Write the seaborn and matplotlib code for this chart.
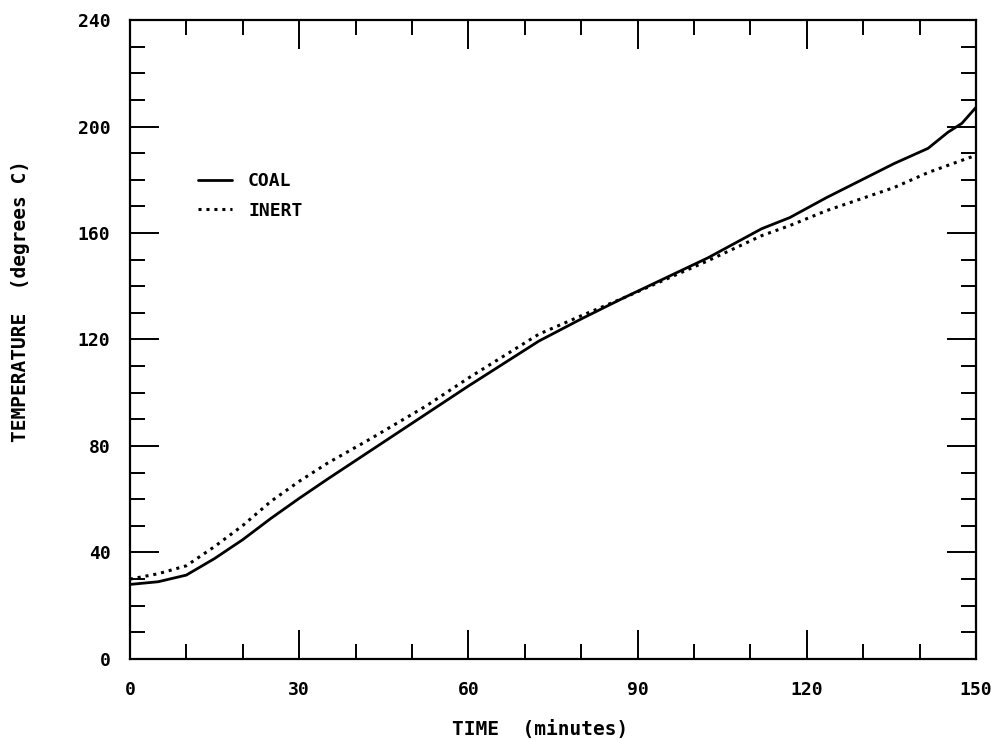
import numpy as np
import pandas as pd
import matplotlib
matplotlib.use("Agg")
import matplotlib.pyplot as plt
from matplotlib.ticker import MultipleLocator
from matplotlib.lines import Line2D
import seaborn as sns

# Heating curves: bed temperature versus time for coal and inert packing
time_min = [0, 5, 10, 15, 20, 25, 30, 35, 42.5, 52.5, 60, 72.5, 80, 87.5,
            102.5, 112, 117, 123.5, 135.5, 141.5, 145, 147.5, 150]
coal_temp = [28, 29, 31.5, 37.7, 44.8, 52.8, 60.3, 67.5, 78, 92, 102.5, 119.4,
             127.7, 135.6, 150.7, 161.6, 165.8, 173.3, 186.1, 191.8, 197.8,
             201.2, 207.2]
inert_temp = [30, 32, 35, 42.2, 50.1, 59.2, 66.7, 73.5, 82.5, 95, 105.5, 122,
              128.9, 135.6, 149.6, 159, 162.8, 168.4, 177.1, 182.7, 185.4,
              187.3, 189.2]

series_names = ["COAL", "INERT"]
x_ticks = [0, 30, 60, 90, 120, 150]
y_ticks = [0, 40, 80, 120, 160, 200, 240]
x_label = "TIME  (minutes)"
y_label = "TEMPERATURE  (degrees C)"

df = pd.DataFrame({
    "time": time_min * 2,
    "temp": coal_temp + inert_temp,
    "series": [series_names[0]] * len(time_min) + [series_names[1]] * len(time_min),
})

sns.set_theme(style="ticks")
plt.rcParams["font.family"] = ["DejaVu Sans Mono", "DejaVu Sans"]
plt.rcParams["font.weight"] = "bold"
plt.rcParams["text.color"] = "black"
plt.rcParams["axes.labelcolor"] = "black"
plt.rcParams["xtick.color"] = "black"
plt.rcParams["ytick.color"] = "black"

fig = plt.figure(figsize=(9.99, 7.41), dpi=100)
ax = fig.add_axes([0.130, 0.1107, 0.847, 0.8623])

styles = {"COAL": "-", "INERT": (0, (1, 1.6))}
widths = {"COAL": 2.0, "INERT": 2.2}
for name in series_names:
    sub = df[df["series"] == name]
    sns.lineplot(data=sub, x="time", y="temp", ax=ax, color="black",
                 linewidth=widths[name], linestyle=styles[name],
                 estimator=None, sort=False, legend=False)

ax.set_xlim(0, 150)
ax.set_ylim(0, 240)
ax.set_xticks(x_ticks)
ax.set_yticks(y_ticks)
ax.set_xticklabels([str(v) for v in x_ticks])
ax.set_yticklabels([str(v) for v in y_ticks])
ax.xaxis.set_minor_locator(MultipleLocator(10))
ax.yaxis.set_minor_locator(MultipleLocator(10))

ax.tick_params(which="both", direction="in", top=True, right=True,
               color="black", labelcolor="black", width=1.4)
ax.tick_params(which="major", length=21)
ax.tick_params(which="minor", length=10.5)
ax.tick_params(axis="x", which="major", pad=16, labelsize=13)
ax.tick_params(axis="y", which="major", pad=14, labelsize=13)
for lab in ax.get_xticklabels() + ax.get_yticklabels():
    lab.set_fontweight("bold")

for sp in ax.spines.values():
    sp.set_visible(True)
    sp.set_color("black")
    sp.set_linewidth(1.6)

ax.set_xlabel(x_label, fontsize=14, fontweight="bold", color="black")
ax.set_ylabel(y_label, fontsize=14, fontweight="bold", color="black")
ax.xaxis.set_label_coords(0.485, -0.095)
ax.yaxis.set_label_coords(-0.118, 0.56)

handles = [Line2D([], [], color="black", linewidth=widths[n], linestyle=styles[n])
           for n in series_names]
leg = ax.legend(handles, series_names, loc="upper left",
                bbox_to_anchor=(0.080, 0.762), frameon=False,
                borderaxespad=0, borderpad=0, handlelength=1.9,
                handletextpad=0.9, labelspacing=0.65,
                prop={"family": "DejaVu Sans Mono", "weight": "bold", "size": 13})
for t in leg.get_texts():
    t.set_color("black")

fig.savefig("out.png", dpi=100, facecolor="white")
